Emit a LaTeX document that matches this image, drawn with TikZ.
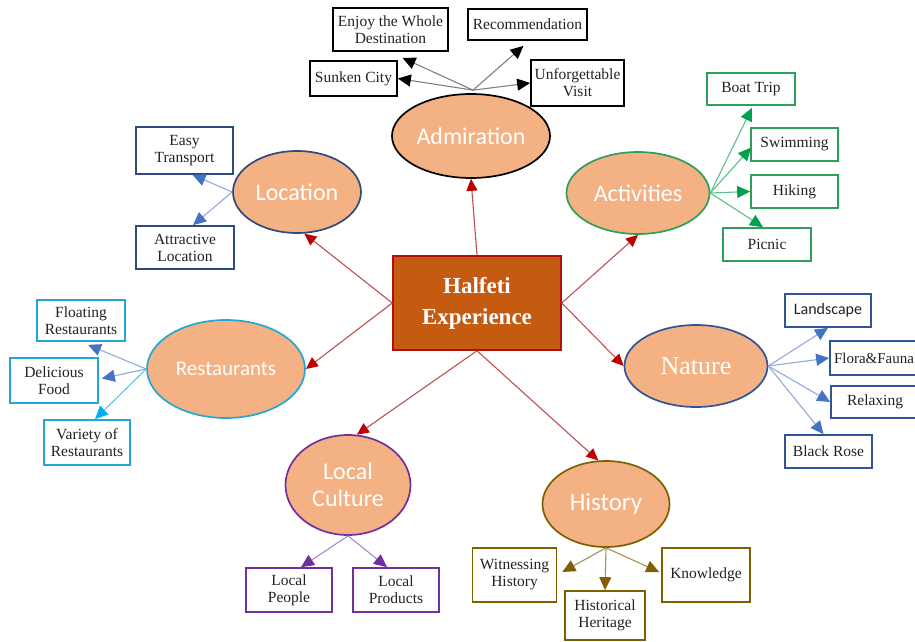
\documentclass[tikz,border=0pt]{standalone}
\usepackage{fontspec}
\setmainfont{Liberation Serif}
\newfontfamily\calib{Carlito}
\usetikzlibrary{arrows.meta,calc,shapes.geometric}
\definecolor{efill}{HTML}{F4B183}
\definecolor{cfill}{HTML}{C55A11}
\definecolor{cborder}{HTML}{B01010}
\definecolor{lred}{HTML}{C0504D}
\definecolor{dred}{HTML}{C00000}
\definecolor{navy}{HTML}{2F4A7F}
\definecolor{nblue}{HTML}{2F5597}
\definecolor{lblue}{HTML}{8FAADC}
\definecolor{hblue}{HTML}{4472C4}
\definecolor{cyanb}{HTML}{23A8D6}
\definecolor{cyanh}{HTML}{00B0F0}
\definecolor{grn}{HTML}{2E9E5B}
\definecolor{lgrn}{HTML}{5CC08A}
\definecolor{hgrn}{HTML}{00A050}
\definecolor{purp}{HTML}{7030A0}
\definecolor{lpurp}{HTML}{A98BC8}
\definecolor{brn}{HTML}{7F6000}
\definecolor{lbrn}{HTML}{A89050}
\definecolor{txt}{HTML}{222222}
\tikzset{
  ell/.style={ellipse, draw, line width=1.7pt, fill=efill, text=white, inner sep=0pt, align=center,
    font=\calib\fontsize{24}{27}\selectfont},
  bx/.style={draw, line width=1.7pt, fill=white, text=txt, inner sep=0pt, align=center,
    font=\fontsize{15.5}{17}\selectfont},
  mainarr/.style={draw=lred, line width=1.1pt, -{Triangle[length=12pt,width=11pt,color=dred]}},
  subarr/.style 2 args={draw=#1, line width=1.1pt, -{Triangle[length=13pt,width=12pt,color=#2]}}
}
\begin{document}
\begin{tikzpicture}[x=1pt,y=1pt]
\useasboundingbox (0,0) rectangle (915,-642);
\clip (0,0) rectangle (915,-642);
% centre
\node[draw=cborder, line width=1.5pt, fill=cfill, minimum width=168pt, minimum height=94pt,
  text=white, align=center, inner sep=0pt, font=\bfseries\fontsize{23}{31}\selectfont] (hx) at (477,-303) {Halfeti\\Experience};
% ellipses
\node[ell, draw=black, minimum width=158pt, minimum height=84pt] (adm) at (471,-136) {Admiration};
\node[ell, draw=navy, minimum width=128pt, minimum height=82pt] (loc) at (297,-192) {Location};
\node[ell, draw=grn, minimum width=143pt, minimum height=82pt] (act) at (638,-193) {Activities};
\node[ell, draw=cyanb, minimum width=158pt, minimum height=98pt, font=\calib\fontsize{21}{25}\selectfont] (rest) at (226,-369) {Restaurants};
\node[ell, draw=nblue, minimum width=143pt, minimum height=82pt, font=\fontsize{26}{28}\selectfont] (nat) at (696,-366) {Nature};
\node[ell, draw=purp, minimum width=125pt, minimum height=100pt] (lc) at (348,-485) {Local\\Culture};
\node[ell, draw=brn, minimum width=127pt, minimum height=86pt, font=\calib\fontsize{25}{27}\selectfont] (hist) at (606,-504) {History};
% main arrows
\draw[mainarr] (hx.north) -- (adm.south);
\draw[mainarr] (hx.west) -- (loc.-80);
\draw[mainarr] (hx.west) -- (rest.east);
\draw[mainarr] (hx.east) -- (act.south);
\draw[mainarr] (hx.east) -- (nat.west);
\draw[mainarr] (hx.south) -- (lc.80);
\draw[mainarr] (hx.south) -- (hist.100);
% admiration boxes
\node[bx, draw=black, minimum width=115pt, minimum height=43pt] (enjoy) at (390.5,-29.5) {Enjoy the Whole\\Destination};
\node[bx, draw=black, minimum width=119pt, minimum height=31pt] (recom) at (527.5,-24.5) {Recommendation};
\node[bx, draw=black, minimum width=87pt, minimum height=35pt] (sunk) at (353.5,-78.5) {Sunken City};
\node[bx, draw=black, minimum width=93pt, minimum height=46pt] (unf) at (577.5,-83) {Unforgettable\\Visit};
\coordinate (admtop) at ($(adm.north)+(2,3)$);
\draw[subarr={gray}{black}] (admtop) -- ($(enjoy.south)+(12,-6)$);
\draw[subarr={gray}{black}] (admtop) -- ($(recom.south)+(-4,-5)$);
\draw[subarr={gray}{black}] (admtop) -- (sunk.east);
\draw[subarr={gray}{black}] (admtop) -- (unf.west);
% location boxes
\node[bx, draw=navy, minimum width=97pt, minimum height=47pt] (easy) at (184.5,-150.5) {Easy\\Transport};
\node[bx, draw=navy, minimum width=98pt, minimum height=43pt] (attr) at (185,-247.5) {Attractive\\Location};
\draw[subarr={lblue}{hblue}] (loc.west) -- ($(easy.south)+(8,0)$);
\draw[subarr={lblue}{hblue}] (loc.west) -- ($(attr.north)+(8,0)$);
% restaurant boxes
\node[bx, draw=cyanb, minimum width=88pt, minimum height=41pt] (float) at (81,-320.5) {Floating\\Restaurants};
\node[bx, draw=cyanb, minimum width=88pt, minimum height=45pt] (deli) at (54,-380.5) {Delicious\\Food};
\node[bx, draw=cyanb, minimum width=86pt, minimum height=45pt] (var) at (87,-442.5) {Variety of\\Restaurants};
\draw[subarr={lblue}{hblue}] (rest.west) -- ($(float.south)+(7,-3)$);
\draw[subarr={lblue}{hblue}] (rest.west) -- ($(deli.east)+(3,2)$);
\draw[subarr={cyanb!70}{cyanh}] (rest.west) -- ($(var.north)+(8,0)$);
% activity boxes
\node[bx, draw=grn, minimum width=88pt, minimum height=32pt] (boat) at (751,-89) {Boat Trip};
\node[bx, draw=grn, minimum width=87pt, minimum height=33pt] (swim) at (794.5,-144.5) {Swimming};
\node[bx, draw=grn, minimum width=87pt, minimum height=33pt] (hike) at (794.5,-191.5) {Hiking};
\node[bx, draw=grn, minimum width=88pt, minimum height=33pt] (pic) at (767,-244.5) {Picnic};
\draw[subarr={lgrn}{hgrn}] (act.east) -- ($(boat.south)+(1,-2)$);
\draw[subarr={lgrn}{hgrn}] (act.east) -- ($(swim.west)+(1,-3)$);
\draw[subarr={lgrn}{hgrn}] (act.east) -- (hike.west);
\draw[subarr={lgrn}{hgrn}] (act.east) -- ($(pic.north)+(-4,0)$);
% nature boxes
\node[bx, draw=nblue, minimum width=86pt, minimum height=33pt, font=\calib\fontsize{16}{17}\selectfont] (land) at (828,-310.5) {Landscape};
\node[bx, draw=nblue, minimum width=88pt, minimum height=34pt, font=\fontsize{15}{17}\selectfont] (flora) at (874,-358) {Flora\&Fauna};
\node[bx, draw=nblue, minimum width=88pt, minimum height=32pt] (relax) at (875,-402) {Relaxing};
\node[bx, draw=nblue, minimum width=87pt, minimum height=33pt] (rose) at (828.5,-451.5) {Black Rose};
\draw[subarr={lblue}{hblue}] (nat.east) -- (land.south);
\draw[subarr={lblue}{hblue}] (nat.east) -- (flora.west);
\draw[subarr={lblue}{hblue}] (nat.east) -- (relax.west);
\draw[subarr={lblue}{hblue}] (nat.east) -- ($(rose.north)+(-5,0)$);
% local culture boxes
\node[bx, draw=purp, minimum width=86pt, minimum height=44pt] (peop) at (289,-590) {Local\\People};
\node[bx, draw=purp, minimum width=86pt, minimum height=44pt] (prod) at (396,-590) {Local\\Products};
\draw[subarr={lpurp}{purp}] (lc.south) -- ($(peop.north)+(12,0)$);
\draw[subarr={lpurp}{purp}] (lc.south) -- ($(prod.north)+(-9,0)$);
% history boxes
\node[bx, draw=brn, minimum width=84pt, minimum height=54pt] (wit) at (514.5,-575) {Witnessing\\History};
\node[bx, draw=brn, minimum width=80pt, minimum height=49pt] (her) at (605,-615.5) {Historical\\Heritage};
\node[bx, draw=brn, minimum width=88pt, minimum height=54pt] (know) at (706,-575) {Knowledge};
\draw[subarr={lbrn}{brn}] (hist.south) -- ($(wit.east)+(5,3)$);
\draw[subarr={lbrn}{brn}] (hist.south) -- (her.north);
\draw[subarr={lbrn}{brn}] (hist.south) -- ($(know.west)+(-2,3)$);
\end{tikzpicture}
\end{document}
